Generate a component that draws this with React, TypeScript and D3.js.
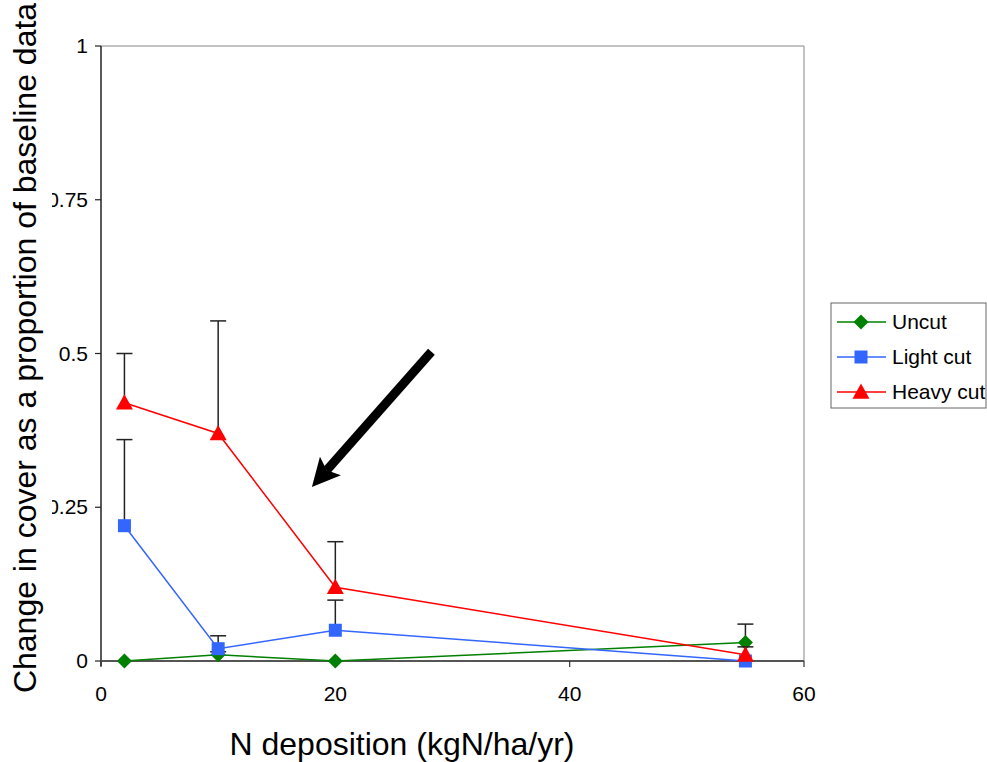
import React from "react";
import * as d3 from "d3";

// N deposition levels (kgN/ha/yr)
const nDeposition = [2, 10, 20, 55];

// change in cover, per cutting regime
const uncut = [0, 0.01, 0, 0.03];
const lightCut = [0.22, 0.02, 0.05, 0];
const heavyCut = [0.42, 0.37, 0.12, 0.01];

// upper end of error bars (null = none drawn)
const uncutUpper = [null, 0.015, null, 0.06];
const lightUpper = [0.36, 0.041, 0.099, null];
const heavyUpper = [0.5, 0.553, 0.194, 0.023];

const yTicks = [0, 0.25, 0.5, 0.75, 1];
const yTickLabels = ["0", "0.25", "0.5", "0.75", "1"];
const xTicks = [0, 20, 40, 60];

const seriesNames = ["Uncut", "Light cut", "Heavy cut"];

const FONT = "Liberation Sans, Arial, sans-serif";

const Marker = ({ kind, x, y, color }) => {
  if (kind === "diamond") {
    const r = 7.5;
    return <path d={`M${x},${y - r}L${x + r},${y}L${x},${y + r}L${x - r},${y}Z`} fill={color} />;
  }
  if (kind === "square") {
    const r = 6.5;
    return <rect x={x - r} y={y - r} width={2 * r} height={2 * r} fill={color} />;
  }
  const r = 8.5;
  return <path d={`M${x},${y - r}L${x + r},${y + r * 0.8}L${x - r},${y + r * 0.8}Z`} fill={color} />;
};

const App = () => {
  const width = 987;
  const height = 762;
  const margin = { top: 46, left: 101, right: 183, bottom: 101 };

  const xScale = d3.scaleLinear().domain([0, 60]).range([margin.left, width - margin.right]);
  const yScale = d3.scaleLinear().domain([0, 1]).range([height - margin.bottom, margin.top]);

  const line = d3
    .line<number>()
    .x((_, i) => xScale(nDeposition[i]))
    .y((d) => yScale(d));

  const series = [
    { name: seriesNames[0], values: uncut, upper: uncutUpper, color: "#008000", kind: "diamond" },
    { name: seriesNames[1], values: lightCut, upper: lightUpper, color: "#3366FF", kind: "square" },
    { name: seriesNames[2], values: heavyCut, upper: heavyUpper, color: "#FF0000", kind: "triangle" },
  ];

  const x0 = xScale(0);
  const x1 = xScale(60);
  const y0 = yScale(0);
  const y1 = yScale(1);

  // arrow annotation in data coordinates
  const aFrom = [xScale(28.2), yScale(0.503)];
  const aTo = [xScale(18), yScale(0.283)];
  const dx = aTo[0] - aFrom[0];
  const dy = aTo[1] - aFrom[1];
  const len = Math.sqrt(dx * dx + dy * dy);
  const ux = dx / len;
  const uy = dy / len;
  const headLen = 28;
  const headHalf = 14;
  const bx = aTo[0] - ux * headLen;
  const by = aTo[1] - uy * headLen;
  const notchX = aTo[0] - ux * headLen * 0.8;
  const notchY = aTo[1] - uy * headLen * 0.8;

  return (
    <svg
      width={width}
      height={height}
      style={{ position: "absolute", left: 0, top: 0, background: "#fff" }}
      fontFamily={FONT}
    >
      {/* plot frame */}
      <line x1={x0} y1={y1} x2={x1} y2={y1} stroke="#888" strokeWidth={1} />
      <line x1={x1} y1={y1} x2={x1} y2={y0} stroke="#888" strokeWidth={1} />

      {/* y axis */}
      <line x1={x0} y1={y1} x2={x0} y2={y0 + 5} stroke="#222" strokeWidth={1.5} />
      {yTicks.map((t, i) => (
        <g key={t}>
          <line x1={x0 - 6} x2={x0} y1={yScale(t)} y2={yScale(t)} stroke="#222" strokeWidth={1.2} />
          <text x={88} y={yScale(t) + 7} fontSize={21} textAnchor="end" fill="#000">
            {yTickLabels[i]}
          </text>
        </g>
      ))}

      {/* x axis */}
      <line x1={x0} y1={y0} x2={x1} y2={y0} stroke="#555" strokeWidth={2} />
      {xTicks.map((t) => (
        <g key={t}>
          <line x1={xScale(t)} x2={xScale(t)} y1={y0} y2={y0 + 6} stroke="#333" strokeWidth={1.2} />
          <text x={xScale(t)} y={701} fontSize={21} textAnchor="middle" fill="#000">
            {t}
          </text>
        </g>
      ))}

      {/* series */}
      {series.map((s) => (
        <g key={s.name}>
          {s.upper.map((u, i) =>
            u == null ? null : (
              <g key={i} stroke="#222" strokeWidth={1.5}>
                <line
                  x1={xScale(nDeposition[i])}
                  x2={xScale(nDeposition[i])}
                  y1={yScale(s.values[i])}
                  y2={yScale(u)}
                />
                <line
                  x1={xScale(nDeposition[i]) - 8}
                  x2={xScale(nDeposition[i]) + 8}
                  y1={yScale(u)}
                  y2={yScale(u)}
                />
              </g>
            )
          )}
          <path d={line(s.values) ?? ""} fill="none" stroke={s.color} strokeWidth={1.5} />
          {s.values.map((v, i) => (
            <Marker key={i} kind={s.kind} x={xScale(nDeposition[i])} y={yScale(v)} color={s.color} />
          ))}
        </g>
      ))}

      {/* arrow */}
      <line x1={aFrom[0]} y1={aFrom[1]} x2={notchX} y2={notchY} stroke="#000" strokeWidth={9} />
      <path
        d={`M${aTo[0]},${aTo[1]}L${bx - uy * headHalf},${by + ux * headHalf}L${notchX},${notchY}L${bx + uy * headHalf},${by - ux * headHalf}Z`}
        fill="#000"
      />

      {/* legend */}
      <rect x={831} y={303} width={155} height={105} fill="#fff" stroke="#666" strokeWidth={1} />
      {series.map((s, i) => {
        const ly = 322 + i * 35;
        return (
          <g key={s.name}>
            <line x1={837} x2={886} y1={ly} y2={ly} stroke={s.color} strokeWidth={1.5} />
            <Marker kind={s.kind} x={861} y={ly} color={s.color} />
            <text x={892} y={ly + 7} fontSize={21} fill="#000">
              {s.name}
            </text>
          </g>
        );
      })}

      {/* axis titles */}
      <text x={402} y={755} fontSize={32} textAnchor="middle" fill="#000">
        N deposition (kgN/ha/yr)
      </text>
      <rect x={0} y={0} width={52} height={height} fill="#fff" />
      <text
        transform={`translate(36,348) rotate(-90)`}
        fontSize={32}
        textAnchor="middle"
        fill="#000"
      >
        Change in cover as a proportion of baseline data
      </text>
    </svg>
  );
};

export default App;
